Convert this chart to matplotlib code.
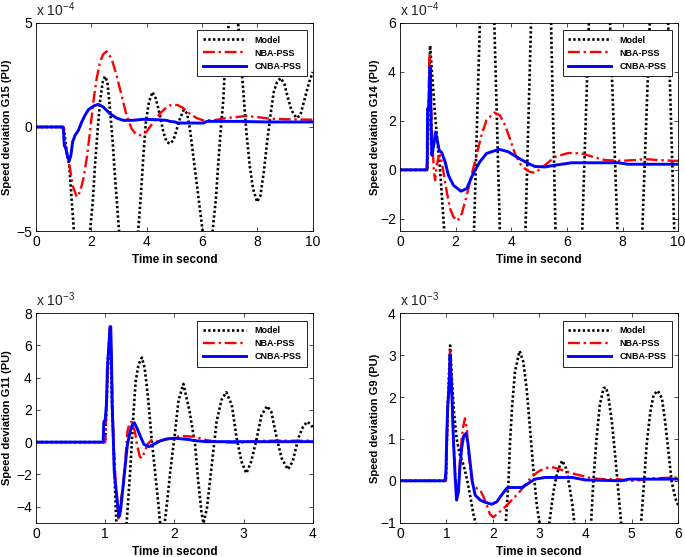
import matplotlib
matplotlib.use('Agg')
import matplotlib.pyplot as plt

# ---- G15 (values in units of 1e-4 pu) ----
t15_model = [0, 1.0, 1.11, 1.2, 1.26, 1.31, 1.37, 1.66, 1.95, 2.05, 2.13, 2.23, 2.31, 2.41, 2.49, 2.58,
             2.67, 2.77, 2.85, 2.94, 3.0, 3.35, 3.69, 3.78, 3.88, 3.97, 4.08, 4.21, 4.33, 4.48, 4.6,
             4.72, 4.84, 4.96, 5.02, 5.2, 5.34, 5.46, 5.56, 5.68, 5.8, 5.92, 6.02, 6.2, 6.38, 6.5,
             6.58, 6.67, 6.77, 6.83, 6.88, 6.97, 7.13, 7.3, 7.36, 7.42, 7.51, 7.6, 7.72, 7.84, 7.99,
             8.11, 8.23, 8.35, 8.47, 8.59, 8.71, 8.84, 8.97, 9.11, 9.23, 9.41, 9.55, 9.71, 9.87, 10.0]
y15_model = [0, 0, -1.2, -1.84, -2.96, -3.92, -5.0, -7.0, -5.0, -3.6, -1.84, -0.08, 1.2, 2.16, 2.43, 2.16,
             0.88, -0.72, -2.32, -3.92, -5.0, -7.0, -5.0, -3.44, -1.36, 0.24, 1.2, 1.68, 1.36, 0.56, -0.24,
             -0.72, -0.8, -0.64, -0.4, 0.4, 0.83, 0.64, -0.08, -1.36, -2.64, -3.92, -5.0, -5.6, -5.0, -3.44,
             -1.84, -0.24, 1.36, 2.96, 4.08, 5.0, 5.6, 5.0, 4.08, 2.96, 1.36, -0.24, -1.84, -2.96, -3.6,
             -3.28, -2.16, -0.72, 0.56, 1.68, 2.16, 2.35, 2.08, 1.36, 0.8, 0.43, 0.56, 1.36, 2.16, 2.64]
t15_nba = [0, 1.0, 1.05, 1.13, 1.23, 1.32, 1.47, 1.59, 1.71, 1.83, 1.95, 2.07, 2.19, 2.31, 2.43, 2.55,
           2.73, 2.91, 3.09, 3.27, 3.45, 3.6, 3.75, 3.99, 4.24, 4.48, 4.72, 4.84, 5.02, 5.14, 5.32, 5.56,
           5.8, 6.04, 6.4, 6.88, 7.25, 7.61, 7.97, 8.45, 9.05, 10.0]
y15_nba = [0, 0, -0.88, -1.36, -2.0, -2.8, -3.36, -3.12, -2.48, -1.52, -0.24, 1.2, 2.32, 3.12, 3.5, 3.63,
           3.28, 2.48, 1.52, 0.56, -0.08, -0.33, -0.4, -0.24, 0.24, 0.64, 0.96, 1.04, 1.07, 1.04, 0.91, 0.64,
           0.43, 0.32, 0.32, 0.43, 0.48, 0.53, 0.48, 0.4, 0.37, 0.35]
t15_cnba = [0, 0.97, 0.99, 1.02, 1.08, 1.13, 1.2, 1.26, 1.32, 1.41, 1.53, 1.65, 1.77, 1.89, 2.07, 2.25,
            2.43, 2.67, 2.91, 3.15, 3.51, 3.87, 4.36, 4.72, 4.84, 5.02, 5.14, 6.05, 6.17, 7.25, 8.45, 10.0]
y15_cnba = [0, 0, -0.16, -0.88, -1.04, -1.36, -1.63, -1.36, -0.72, -0.4, -0.16, 0.24, 0.56, 0.83, 1.0, 1.09,
            0.96, 0.64, 0.43, 0.32, 0.32, 0.37, 0.35, 0.32, 0.27, 0.24, 0.19, 0.19, 0.27, 0.27, 0.24, 0.24]

# ---- G14 (1e-4 pu) ----
t14_model = [0, 0.98, 1.08, 1.26, 1.44, 1.59, 2.12, 2.66, 2.87, 3.13, 3.39, 3.59, 4.05, 4.51, 4.71, 5.07,
             5.43, 5.59, 6.07, 6.55, 6.79, 7.17, 7.55, 7.82, 8.27, 8.71, 8.98, 9.31, 9.64, 9.86, 10.0]
y14_model = [0, 0, 5.07, 2.23, 0.0, -2.5, -12, -2.5, 6, 12, 6, -2.5, -13, -2.5, 6, 13,
             6, -2.5, -14, -2.5, 6, 14, 6, -2.5, -14, -2.5, 6, 15, 6, -2.5, -7]
t14_nba = [0, 0.98, 1.02, 1.06, 1.11, 1.16, 1.22, 1.26, 1.32, 1.38, 1.45, 1.56, 1.68, 1.8, 1.92, 2.07,
           2.22, 2.4, 2.57, 2.75, 2.93, 3.11, 3.39, 3.59, 3.77, 3.95, 4.13, 4.31, 4.49, 4.67, 4.85, 5.21,
           5.57, 6.05, 6.53, 6.95, 7.37, 7.97, 8.44, 8.8, 9.28, 9.88, 10.0]
y14_nba = [0, 0, 2.6, 4.69, 2.9, 1.14, -0.08, -0.42, 0.19, 0.5, 0.6, -0.08, -0.9, -1.58, -1.92, -2.08,
           -1.78, -1.04, -0.22, 0.6, 1.42, 2.03, 2.34, 2.23, 1.83, 1.28, 0.67, 0.26, 0.05, -0.08, -0.12, 0.19,
           0.53, 0.69, 0.67, 0.53, 0.4, 0.37, 0.4, 0.44, 0.4, 0.37, 0.37]
t14_cnba = [0, 0.96, 0.98, 0.99, 1.04, 1.08, 1.11, 1.14, 1.17, 1.23, 1.28, 1.35, 1.41, 1.5, 1.62, 1.74,
            1.92, 2.19, 2.4, 2.63, 2.87, 3.11, 3.56, 3.89, 4.25, 4.61, 4.85, 5.21, 5.57, 6.17, 7.85, 8.2, 10.0]
y14_cnba = [0, 0, 0.46, 2.5, 2.57, 4.21, 2.5, 0.6, 0.74, 1.14, 1.55, 1.14, 0.8, 0.71, 0.33, -0.22,
            -0.63, -0.87, -0.76, -0.15, 0.33, 0.67, 0.84, 0.74, 0.49, 0.26, 0.14, 0.12, 0.19, 0.29, 0.29, 0.23, 0.23]

# ---- G11 (1e-3 pu) ----
t11_model = [0, 1.0, 1.04, 1.07, 1.1, 1.16, 1.24, 1.31, 1.36, 1.41, 1.44, 1.48, 1.53, 1.57, 1.62, 1.67,
             1.72, 1.77, 1.79, 1.83, 1.86, 1.89, 1.94, 2.01, 2.06, 2.13, 2.22, 2.30, 2.34, 2.39, 2.42, 2.47,
             2.54, 2.61, 2.68, 2.75, 2.83, 2.9, 2.97, 3.04, 3.11, 3.19, 3.26, 3.34, 3.40, 3.48, 3.55, 3.64,
             3.71, 3.79, 3.86, 3.92, 3.98, 4.0]
y11_model = [0, 0, 5.0, 7.1, 2.3, -5.0, -5.6, -5.0, -1.83, 1.9, 3.76, 4.8, 5.25, 4.6, 2.73, 0.24,
             -1.83, -3.9, -4.94, -5.3, -5.0, -3.9, -1.83, 0.65, 2.6, 3.61, 1.89, -0.18, -2.24, -4.3, -5.04, -4.1,
             -1.42, 1.27, 2.62, 3.1, 2.3, 0.24, -1.21, -1.93, -1.21, 0.24, 1.68, 2.24, 1.89, 0.24, -1.0, -1.69,
             -1.21, 0.24, 0.96, 1.27, 1.06, 0.86]
t11_nba = [0, 1.0, 1.02, 1.04, 1.07, 1.09, 1.12, 1.16, 1.19, 1.26, 1.3, 1.32, 1.35, 1.38, 1.43, 1.46,
           1.5, 1.53, 1.57, 1.62, 1.67, 1.74, 1.84, 1.96, 2.03, 2.13, 2.27, 2.37, 2.46, 2.61, 2.8, 2.95,
           3.09, 3.33, 3.62, 4.0]
y11_nba = [0, 0, 2.5, 5.2, 7.1, 5.4, -0.18, -3.07, -4.73, -2.66, -0.6, 0.65, 1.17, 1.27, 0.65, -0.18,
           -0.9, -1.0, -0.59, -0.07, 0.13, 0.03, 0.13, 0.24, 0.34, 0.38, 0.34, 0.24, 0.13, 0.03, -0.03, -0.03,
           0.03, 0.09, 0.09, 0.09]
t11_cnba = [0, 0.97, 0.98, 1.0, 1.02, 1.03, 1.04, 1.05, 1.07, 1.08, 1.09, 1.1, 1.12, 1.13, 1.16, 1.18,
            1.2, 1.22, 1.25, 1.29, 1.32, 1.36, 1.38, 1.42, 1.46, 1.51, 1.56, 1.63, 1.7, 1.79, 1.89, 2.01,
            2.22, 2.27, 2.46, 4.0]
y11_cnba = [0, 0, 1.27, 1.38, 2.5, 4.4, 5.2, 5.8, 7.17, 7.17, 5.4, 2.3, -0.18, -1.83, -3.07, -3.9,
            -4.63, -4.3, -3.07, -1.42, -0.18, 0.65, 0.96, 1.21, 0.86, 0.34, -0.14, -0.28, -0.14, 0.07, 0.2, 0.24,
            0.16, 0.1, 0.03, 0.03]

# ---- G9 (1e-3 pu) ----
t9_model = [0, 0.99, 1.03, 1.08, 1.13, 1.17, 1.22, 1.29, 1.37, 1.44, 1.51, 1.58, 1.63, 1.95, 2.28, 2.34,
            2.37, 2.42, 2.48, 2.58, 2.66, 2.73, 2.81, 2.88, 2.95, 3.01, 3.12, 3.22, 3.31, 3.38, 3.45, 3.5,
            3.58, 3.65, 3.72, 3.76, 3.94, 4.12, 4.17, 4.24, 4.31, 4.39, 4.44, 4.49, 4.57, 4.64, 4.71, 4.77,
            4.98, 5.2, 5.25, 5.32, 5.4, 5.47, 5.56, 5.65, 5.72, 5.79, 5.86, 5.94, 6.0]
y9_model = [0, 0, 1.8, 3.23, 2.2, 1.57, 1.01, 0.62, 0.38, 0.06, -0.34, -0.78, -1.01, -2.5, -1.01, -0.02,
            0.86, 1.81, 2.61, 3.1, 2.84, 2.21, 1.17, 0.22, -0.58, -1.01, -1.6, -1.01, -0.26, 0.14, 0.38, 0.48,
            0.3, -0.1, -0.58, -1.01, -2.0, -1.01, -0.02, 1.02, 1.81, 2.21, 2.23, 2.05, 1.41, 0.62, -0.26, -1.01,
            -2.2, -1.01, -0.26, 0.86, 1.65, 2.05, 2.15, 1.97, 1.41, 0.7, -0.02, -0.42, -0.58]
t9_nba = [0, 0.99, 1.03, 1.08, 1.12, 1.15, 1.22, 1.26, 1.29, 1.33, 1.37, 1.4, 1.44, 1.47, 1.51, 1.56,
          1.62, 1.73, 1.8, 1.87, 1.94, 2.01, 2.12, 2.27, 2.41, 2.55, 2.7, 2.84, 3.01, 3.2, 3.31, 3.49,
          3.71, 3.92, 4.14, 4.35, 4.71, 4.94, 5.07, 5.29, 5.5, 6.0]
y9_nba = [0, 0, 1.8, 3.1, 2.05, 1.0, -0.38, -0.26, 0.46, 1.02, 1.33, 1.49, 1.25, 0.78, 0.3, -0.06,
          -0.16, -0.22, -0.38, -0.58, -0.8, -0.87, -0.77, -0.62, -0.46, -0.3, -0.1, 0.1, 0.24, 0.32, 0.32, 0.26,
          0.18, 0.12, 0.06, 0.04, 0.04, 0.0, 0.0, 0.04, 0.06, 0.08]
t9_cnba = [0, 0.97, 0.99, 1.01, 1.03, 1.06, 1.08, 1.09, 1.12, 1.15, 1.19, 1.22, 1.26, 1.29, 1.33, 1.37,
           1.42, 1.46, 1.51, 1.56, 1.62, 1.73, 1.83, 1.98, 2.09, 2.19, 2.3, 2.37, 2.63, 2.77, 2.91, 3.13,
           3.71, 4.0, 4.78, 4.94, 6.0]
y9_cnba = [0, 0, 0.22, 1.17, 1.81, 2.21, 3.0, 2.76, 2.05, 1.02, 0.06, -0.46, -0.26, 0.3, 0.78, 1.06,
           1.13, 0.94, 0.46, -0.02, -0.34, -0.46, -0.51, -0.56, -0.5, -0.34, -0.18, -0.16, -0.16, -0.06, 0.04, 0.08,
           0.08, 0.02, 0.0, 0.04, 0.04]

labels = ['Model', 'NBA-PSS', 'CNBA-PSS']

plt.rcParams['font.family'] = ['Liberation Sans', 'DejaVu Sans']
plt.rcParams['mathtext.fontset'] = 'custom'
plt.rcParams['mathtext.rm'] = 'Liberation Sans'
plt.rcParams['mathtext.it'] = 'Liberation Sans:italic'
plt.rcParams['mathtext.bf'] = 'Liberation Sans:bold'


def draw_panel(ax, model, nba, cnba, xlim, xticks, ylim, yticks, expo, ylabel, ylab_x):
    # dense small dots like the MATLAB ':' style
    ax.plot(model[0], model[1], color='k', linestyle=(0, (0.9, 0.9)), linewidth=1.9,
            label=labels[0])
    ax.plot(nba[0], nba[1], color='r', linestyle=(0, (5, 1.6, 1, 1.6)), linewidth=1.7,
            label=labels[1])
    ax.plot(cnba[0], cnba[1], color='b', linestyle='-', linewidth=2.1, label=labels[2])
    ax.set_xlim(xlim)
    ax.set_ylim(ylim)
    ax.set_xticks(xticks)
    ax.set_yticks(yticks)
    ax.tick_params(direction='in', top=True, right=True, length=3, width=0.5,
                   labelsize=10, pad=3)
    for s in ax.spines.values():
        s.set_linewidth(0.6)
    ax.set_xlabel('Time in second', fontsize=8.5, fontweight='bold')
    ax.xaxis.set_label_coords(0.5, -0.11)
    ax.set_ylabel(ylabel, fontsize=8, fontweight='bold')
    ax.yaxis.set_label_coords(ylab_x, 0.5)
    ax.text(0.0, 1.02, r'x 10$^{%d}$' % expo, transform=ax.transAxes,
            ha='left', va='bottom', fontsize=10, color='#222222')
    leg = ax.legend(loc='upper right', bbox_to_anchor=(0.978, 0.965), borderaxespad=0,
                    fancybox=False, framealpha=1, edgecolor='k',
                    prop={'weight': 'bold', 'size': 6.5}, handlelength=4.8,
                    handletextpad=0.9, borderpad=0.6, labelspacing=0.45)
    leg.get_frame().set_linewidth(0.6)


fig = plt.figure(figsize=(6.85, 5.57), dpi=100)
ax1 = fig.add_axes([0.0526, 0.585, 0.404, 0.374])
ax2 = fig.add_axes([0.584, 0.585, 0.406, 0.374])
ax3 = fig.add_axes([0.0526, 0.0616, 0.404, 0.376])
ax4 = fig.add_axes([0.584, 0.0616, 0.406, 0.376])

draw_panel(ax1, (t15_model, y15_model), (t15_nba, y15_nba), (t15_cnba, y15_cnba),
           (0, 10), [0, 2, 4, 6, 8, 10], (-5, 5), [-5, 0, 5], -4,
           'Speed deviation G15 (PU)', -0.087)
draw_panel(ax2, (t14_model, y14_model), (t14_nba, y14_nba), (t14_cnba, y14_cnba),
           (0, 10), [0, 2, 4, 6, 8, 10], (-2.5, 6), [-2, 0, 2, 4, 6], -4,
           'Speed deviation G14 (PU)', -0.072)
draw_panel(ax3, (t11_model, y11_model), (t11_nba, y11_nba), (t11_cnba, y11_cnba),
           (0, 4), [0, 1, 2, 3, 4], (-5, 8), [-4, -2, 0, 2, 4, 6, 8], -3,
           'Speed deviation G11 (PU)', -0.087)
draw_panel(ax4, (t9_model, y9_model), (t9_nba, y9_nba), (t9_cnba, y9_cnba),
           (0, 6), [0, 1, 2, 3, 4, 5, 6], (-1, 4), [-1, 0, 1, 2, 3, 4], -3,
           'Speed deviation G9 (PU)', -0.072)

fig.savefig('out.png', dpi=100)
